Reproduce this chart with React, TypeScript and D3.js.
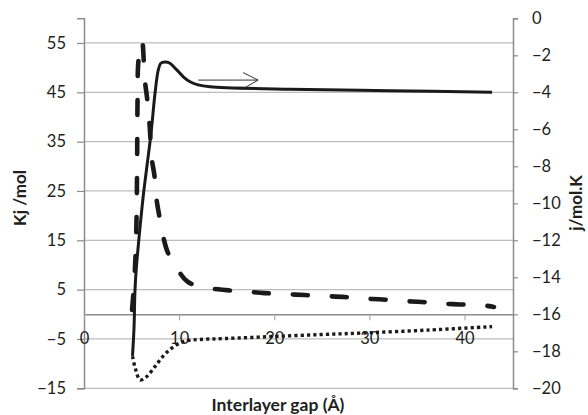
import React, { useEffect, useRef } from 'react';
import * as d3 from 'd3';

// interlayer gap (Å) vs energy terms
const dashedX = [5.05, 5.26, 5.42, 5.52, 5.57, 5.6, 5.63, 5.73, 6.1, 6.4, 6.66, 6.9, 7.12, 7.4, 7.6, 7.9, 8.3, 8.8, 9.75, 10.9, 12.9, 15.0, 17.1, 19.0, 21.1, 23.2, 25.3, 27.4, 29.3, 31.4, 33.4, 35.5, 37.4, 39.5, 41.6, 43.1];
const dashedY = [0.9, 5.9, 12.0, 19.1, 27.2, 35.3, 43.4, 51.5, 55.3, 47.4, 43.4, 38.3, 31.6, 28.2, 23.7, 20.1, 16.0, 12.6, 9.4, 6.6, 5.4, 4.9, 4.6, 4.3, 4.1, 3.9, 3.7, 3.5, 3.2, 3.0, 2.7, 2.5, 2.2, 2.0, 1.9, 1.5];

const dottedX = [5.1, 5.4, 5.9, 6.6, 7.5, 8.4, 9.2, 10.1, 11.0, 12.2, 15.0, 19.9, 25.0, 29.8, 36.1, 42.9];
const dottedY = [-8.5, -11.0, -13.3, -12.6, -10.5, -8.3, -6.9, -5.8, -5.3, -5.1, -4.9, -4.5, -4.1, -3.75, -3.2, -2.5];

// right axis (j/mol.K)
const solidX = [5.1, 5.26, 5.36, 5.5, 5.89, 6.24, 6.66, 7.05, 7.47, 7.81, 8.07, 8.52, 9.04, 9.75, 10.44, 11.15, 12.0, 13.25, 21.7, 32.2, 42.9];
const solidY = [-18.25, -16.7, -14.7, -13.5, -11.3, -9.55, -7.82, -6.2, -4.04, -2.79, -2.43, -2.36, -2.43, -2.79, -3.16, -3.43, -3.6, -3.7, -3.84, -3.91, -4.0];

const leftTicks = [-15, -5, 5, 15, 25, 35, 45, 55];
const rightTicks = [-20, -18, -16, -14, -12, -10, -8, -6, -4, -2, 0];
const xTicks = [0, 10, 20, 30, 40];

const arrowX = [12.0, 18.3];
const arrowY = -3.34;

const W = 588, H = 415;
const FONT = 'Lato, "Open Sans", sans-serif';

const App = () => {
  const ref = useRef(null);

  useEffect(() => {
    if (!ref.current) return;
    const svg = d3.select(ref.current);
    svg.selectAll('*').remove();

    const x = d3.scaleLinear().domain([0, 45.1]).range([84, 513]);
    const yL = d3.scaleLinear().domain([-15, 60]).range([388.3, 18.3]);
    const yR = d3.scaleLinear().domain([-20, 0]).range([388.3, 18.3]);

    // gridlines
    svg.append('g').selectAll('line').data(leftTicks).join('line')
      .attr('x1', 84).attr('x2', 513)
      .attr('y1', d => yL(d)).attr('y2', d => yL(d))
      .attr('stroke', '#bdbdbd').attr('stroke-width', 1.2);

    // left axis
    const gl = svg.append('g').attr('transform', 'translate(84,0)')
      .call(d3.axisLeft(yL).tickValues(leftTicks).tickSize(7).tickPadding(11).tickFormat(d3.format('d')));
    gl.select('.domain').attr('stroke', '#8c8c8c').attr('stroke-width', 1.5);
    gl.selectAll('.tick line').attr('stroke', '#8c8c8c').attr('stroke-width', 1.2);
    gl.selectAll('.tick text').attr('font-family', FONT).attr('font-size', 16.5).attr('fill', '#231f20');

    // right axis
    const gr = svg.append('g').attr('transform', 'translate(513,0)')
      .call(d3.axisRight(yR).tickValues(rightTicks).tickSize(5).tickPadding(14).tickFormat(d3.format('d')));
    gr.select('.domain').attr('stroke', '#8c8c8c').attr('stroke-width', 1.5);
    gr.selectAll('.tick line').attr('stroke', '#8c8c8c').attr('stroke-width', 1.2);
    gr.selectAll('.tick text').attr('font-family', FONT).attr('font-size', 16.5).attr('fill', '#231f20');

    // x axis through 0
    const gx = svg.append('g').attr('transform', `translate(0,${yL(0)})`)
      .call(d3.axisBottom(x).tickValues(xTicks).tickSize(6).tickPadding(12).tickSizeOuter(0));
    gx.select('.domain').attr('stroke', '#8c8c8c').attr('stroke-width', 1.5);
    gx.selectAll('.tick line').attr('stroke', '#a0a0a0').attr('stroke-width', 1);
    gx.selectAll('.tick text').attr('font-family', FONT).attr('font-size', 16.5).attr('fill', '#231f20');

    const smooth = d3.curveCatmullRom.alpha(0.5);
    const lineL = (xs, ys) => d3.line().curve(smooth)
      .x((d, i) => x(xs[i])).y((d, i) => yL(ys[i]))(xs);
    const lineR = (xs, ys) => d3.line().curve(smooth)
      .x((d, i) => x(xs[i])).y((d, i) => yR(ys[i]))(xs);

    svg.append('path').attr('d', lineL(dottedX, dottedY))
      .attr('fill', 'none').attr('stroke', '#1a1a1a').attr('stroke-width', 3.4)
      .attr('stroke-dasharray', '3.2 3.1');

    svg.append('path').attr('d', lineL(dashedX, dashedY))
      .attr('fill', 'none').attr('stroke', '#1a1a1a').attr('stroke-width', 4.6)
      .attr('stroke-linecap', 'round').attr('stroke-dasharray', '15 24');

    svg.append('path').attr('d', lineR(solidX, solidY))
      .attr('fill', 'none').attr('stroke', '#1a1a1a').attr('stroke-width', 3);

    // arrow annotation
    const ax1 = x(arrowX[0]), ax2 = x(arrowX[1]), ay = yR(arrowY);
    svg.append('path')
      .attr('d', `M${ax1},${ay}L${ax2},${ay}M${ax2 - 15},${ay - 7.5}L${ax2},${ay}L${ax2 - 13},${ay + 7.5}`)
      .attr('fill', 'none').attr('stroke', '#333').attr('stroke-width', 1);

    // titles
    svg.append('text').attr('x', 278).attr('y', 411).attr('text-anchor', 'middle')
      .attr('font-family', FONT).attr('font-weight', 'bold').attr('font-size', 17.5).attr('fill', '#231f20')
      .text('Interlayer gap  (Å)');
    svg.append('text').attr('transform', 'translate(26,198) rotate(-90)').attr('text-anchor', 'middle')
      .attr('font-family', FONT).attr('font-weight', 'bold').attr('font-size', 17).attr('fill', '#231f20')
      .text('Kj /mol');
    svg.append('text').attr('transform', 'translate(582,203) rotate(-90)').attr('text-anchor', 'middle')
      .attr('font-family', FONT).attr('font-weight', 'bold').attr('font-size', 17).attr('fill', '#231f20')
      .text('j/mol.K');
  }, []);

  return (
    <svg ref={ref} width={W} height={H}
      style={{ position: 'absolute', left: 0, top: 0, background: '#fff' }} />
  );
};

export default App;
